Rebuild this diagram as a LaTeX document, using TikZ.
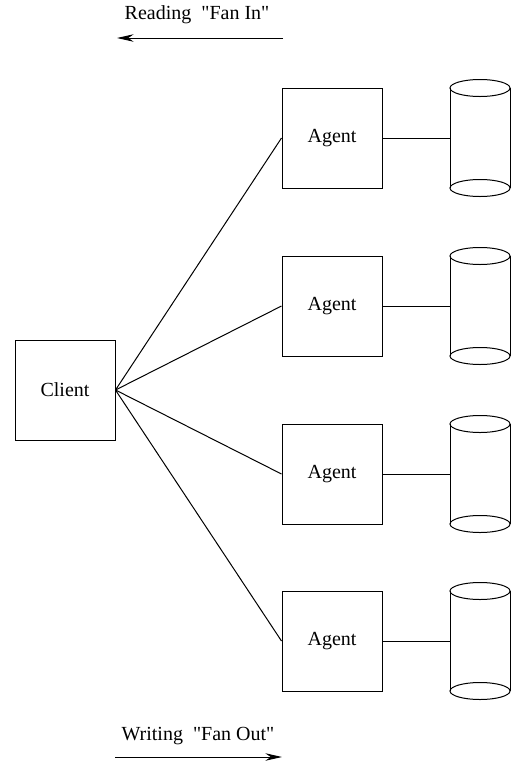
\documentclass[tikz,border=0pt]{standalone}
\usepackage{fontspec}
\setmainfont{Liberation Serif}[Ligatures=TeXOff]
\usetikzlibrary{arrows.meta,positioning}

\begin{document}
\begin{tikzpicture}[x=0.6pt,y=-0.6pt,>={Stealth[length=10pt,width=4.5pt]},line width=0.6pt,
                box node/.style={draw,minimum size=60pt,inner sep=0pt,font=\fontsize{12}{14}\selectfont},
                text node/.style={inner sep=0pt,font=\fontsize{12}{14}\selectfont}]
  \useasboundingbox (0,0) rectangle (511,762);

  \node[text node] (readlbl) at (197,15) {Reading\ \ "Fan In"};
  \coordinate (readR) at (283,38);
  \coordinate (readL) at (117,38);
  \draw[->] (readR) -- (readL);

  \node[box node] (client) at (65,390) {Client};

  \foreach \i/\y in {1/138,2/306,3/474,4/641} {
    \node[box node] (agent\i) at (332,\y) {Agent};
    \coordinate (disk\i) at (450,\y);
    % disk
    \draw (450,\y-50) -- (450,\y+50) (510,\y-50) -- (510,\y+50);
    \draw (480,\y-50) ellipse (30 and 8.5);
    \draw (480,\y+50) ellipse (30 and 8.5);
    \path
      (client.east) edge (agent\i.west)
      (agent\i.east) edge (disk\i)
    ;
  }

  \node[text node] (writelbl) at (198,736) {Writing\ \ "Fan Out"};
  \coordinate (writeL) at (115,757);
  \coordinate (writeR) at (282,757);
  \draw[->] (writeL) -- (writeR);
\end{tikzpicture}
\end{document}
